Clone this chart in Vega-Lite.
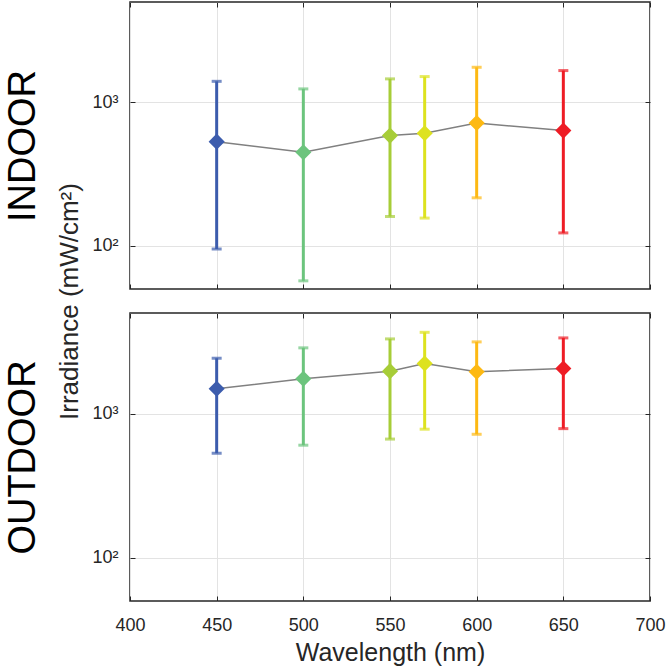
{
  "$schema": "https://vega.github.io/schema/vega-lite/v6.json",
  "padding": {"left": 3, "top": 0, "right": 5, "bottom": 2},
  "background": "white",
  "bounds": "flush",
  "config": {
    "font": "Liberation Sans",
    "view": {"stroke": "#262626", "strokeWidth": 1.5},
    "axis": {"labelFont": "Liberation Sans", "titleFont": "Liberation Sans", "labelColor": "#262626", "titleColor": "#262626", "tickColor": "#262626", "labelFontSize": 18, "titleFontSize": 25, "titleFontWeight": "normal", "gridColor": "#e3e3e3", "gridWidth": 1, "domain": false, "labelFlush": false}
  },
  "data": {"values": [
    {"env": "INDOOR", "wl": 450, "mean": 532, "lo": 95, "hi": 1400},
    {"env": "INDOOR", "wl": 500, "mean": 449, "lo": 57, "hi": 1240},
    {"env": "INDOOR", "wl": 550, "mean": 586, "lo": 160, "hi": 1456},
    {"env": "INDOOR", "wl": 570, "mean": 608, "lo": 156, "hi": 1511},
    {"env": "INDOOR", "wl": 600, "mean": 718, "lo": 216, "hi": 1754},
    {"env": "INDOOR", "wl": 650, "mean": 635, "lo": 123, "hi": 1664},
    {"env": "OUTDOOR", "wl": 450, "mean": 1489, "lo": 531, "hi": 2426},
    {"env": "OUTDOOR", "wl": 500, "mean": 1746, "lo": 604, "hi": 2864},
    {"env": "OUTDOOR", "wl": 550, "mean": 1972, "lo": 666, "hi": 3304},
    {"env": "OUTDOOR", "wl": 570, "mean": 2229, "lo": 780, "hi": 3672},
    {"env": "OUTDOOR", "wl": 600, "mean": 1954, "lo": 719, "hi": 3150},
    {"env": "OUTDOOR", "wl": 650, "mean": 2057, "lo": 787, "hi": 3357}
  ]},
  "spacing": 24,
  "vconcat": [
    {
      "width": 520, "height": 287,
      "transform": [{"filter": "datum.env === 'INDOOR'"}],
      "layer": [
        {"mark": {"type": "rule", "strokeWidth": 3},
         "encoding": {
           "x": {"field": "wl", "type": "quantitative", "scale": {"domain": [400, 700], "nice": false}, "axis": {"orient": "bottom", "values": [400, 450, 500, 550, 600, 650, 700], "labels": false, "tickSize": -5, "grid": true, "title": null}},
           "y": {"field": "lo", "type": "quantitative", "scale": {"type": "log", "domain": [50, 5000], "nice": false}, "axis": {"orient": "left", "values": [100, 1000], "labelExpr": "datum.value == 1000 ? '10³' : '10²'", "tickSize": -5, "labelPadding": 17, "grid": true, "title": "Irradiance (mW/cm²)", "titleFontSize": 26, "titleY": 299, "titleX": -48}},
           "y2": {"field": "hi"},
           "color": {"field": "wl", "type": "nominal", "scale": {"domain": [450, 500, 550, 570, 600, 650], "range": ["#3C5CAD", "#6CC47D", "#A7CD38", "#DDE21F", "#FDB913", "#EE1C25"]}, "legend": null}
         }},
        {"mark": {"type": "tick", "orient": "horizontal", "thickness": 3, "size": 10},
         "encoding": {
           "x": {"field": "wl", "type": "quantitative", "axis": null},
           "y": {"field": "lo", "type": "quantitative", "axis": {"orient": "left", "labels": false, "ticks": false, "grid": false, "title": "INDOOR", "titleFontSize": 38, "titleColor": "black", "titleX": -88, "titleY": 143.5}},
           "color": {"field": "wl", "type": "nominal", "legend": null}
         }},
        {"mark": {"type": "tick", "orient": "horizontal", "thickness": 3, "size": 10},
         "encoding": {
           "x": {"field": "wl", "type": "quantitative", "axis": null},
           "y": {"field": "hi", "type": "quantitative", "axis": null},
           "color": {"field": "wl", "type": "nominal", "legend": null}
         }},
        {"mark": {"type": "line", "color": "#808080", "strokeWidth": 1.5},
         "encoding": {
           "x": {"field": "wl", "type": "quantitative", "axis": {"orient": "top", "values": [400, 450, 500, 550, 600, 650, 700], "labels": false, "tickSize": -5, "grid": false, "title": null}},
           "y": {"field": "mean", "type": "quantitative", "axis": {"orient": "right", "values": [100, 1000], "labels": false, "tickSize": -5, "grid": false, "title": null}}
         }},
        {"mark": {"type": "point", "shape": "diamond", "filled": true, "size": 260, "opacity": 1},
         "encoding": {
           "x": {"field": "wl", "type": "quantitative", "axis": null},
           "y": {"field": "mean", "type": "quantitative", "axis": null},
           "color": {"field": "wl", "type": "nominal", "legend": null}
         }}
      ],
      "resolve": {"axis": {"x": "independent", "y": "independent"}}
    },
    {
      "width": 520, "height": 288,
      "transform": [{"filter": "datum.env === 'OUTDOOR'"}],
      "layer": [
        {"mark": {"type": "rule", "strokeWidth": 3},
         "encoding": {
           "x": {"field": "wl", "type": "quantitative", "scale": {"domain": [400, 700], "nice": false}, "axis": {"orient": "bottom", "values": [400, 450, 500, 550, 600, 650, 700], "tickSize": -5, "labelPadding": 20, "grid": true, "title": "Wavelength (nm)", "titlePadding": 6}},
           "y": {"field": "lo", "type": "quantitative", "scale": {"type": "log", "domain": [50, 5000], "nice": false}, "axis": {"orient": "left", "values": [100, 1000], "labelExpr": "datum.value == 1000 ? '10³' : '10²'", "tickSize": -5, "labelPadding": 17, "grid": true, "title": null}},
           "y2": {"field": "hi"},
           "color": {"field": "wl", "type": "nominal", "scale": {"domain": [450, 500, 550, 570, 600, 650], "range": ["#3C5CAD", "#6CC47D", "#A7CD38", "#DDE21F", "#FDB913", "#EE1C25"]}, "legend": null}
         }},
        {"mark": {"type": "tick", "orient": "horizontal", "thickness": 3, "size": 10},
         "encoding": {
           "x": {"field": "wl", "type": "quantitative", "axis": null},
           "y": {"field": "lo", "type": "quantitative", "axis": {"orient": "left", "labels": false, "ticks": false, "grid": false, "title": "OUTDOOR", "titleFontSize": 38, "titleColor": "black", "titleX": -88, "titleY": 144}},
           "color": {"field": "wl", "type": "nominal", "legend": null}
         }},
        {"mark": {"type": "tick", "orient": "horizontal", "thickness": 3, "size": 10},
         "encoding": {
           "x": {"field": "wl", "type": "quantitative", "axis": null},
           "y": {"field": "hi", "type": "quantitative", "axis": null},
           "color": {"field": "wl", "type": "nominal", "legend": null}
         }},
        {"mark": {"type": "line", "color": "#808080", "strokeWidth": 1.5},
         "encoding": {
           "x": {"field": "wl", "type": "quantitative", "axis": {"orient": "top", "values": [400, 450, 500, 550, 600, 650, 700], "labels": false, "tickSize": -5, "grid": false, "title": null}},
           "y": {"field": "mean", "type": "quantitative", "axis": {"orient": "right", "values": [100, 1000], "labels": false, "tickSize": -5, "grid": false, "title": null}}
         }},
        {"mark": {"type": "point", "shape": "diamond", "filled": true, "size": 260, "opacity": 1},
         "encoding": {
           "x": {"field": "wl", "type": "quantitative", "axis": null},
           "y": {"field": "mean", "type": "quantitative", "axis": null},
           "color": {"field": "wl", "type": "nominal", "legend": null}
         }}
      ],
      "resolve": {"axis": {"x": "independent", "y": "independent"}}
    }
  ]
}
